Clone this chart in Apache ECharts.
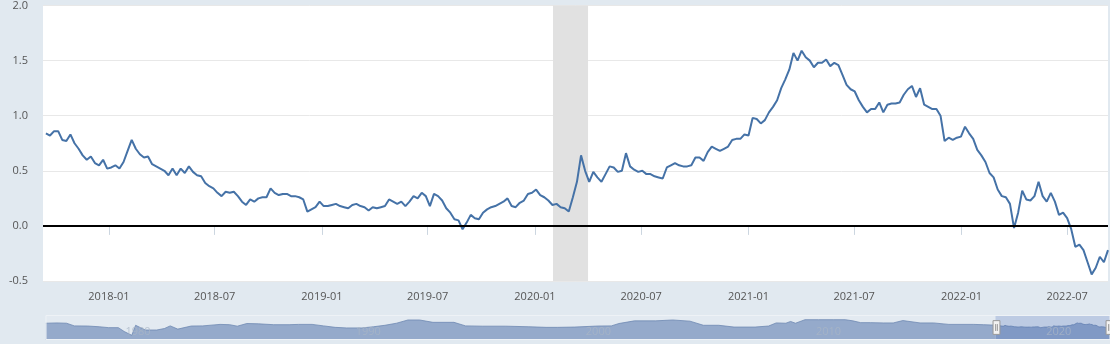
<!DOCTYPE html>
<html>
<head>
<meta charset="utf-8">
<script src="https://cdn.jsdelivr.net/npm/echarts@6/dist/echarts.min.js"></script>
<style>
html, body { margin: 0; padding: 0; background: #e1e9f0; }
#chart { width: 1110px; height: 344px; }
</style>
</head>
<body>
<div id="chart"></div>
<script>
// spread, weekly readings (Fridays) from 2017-09-15 to 2022-09-09
var weekStart = [2017, 8, 15]
var weeklyValues = [
  0.84, 0.82, 0.86, 0.86, 0.78, 0.77, 0.83, 0.75, 0.70, 0.64,
  0.60, 0.63, 0.57, 0.55, 0.60, 0.52, 0.53, 0.55, 0.52, 0.58,
  0.68, 0.78, 0.70, 0.65, 0.62, 0.63, 0.56, 0.54, 0.52, 0.50,
  0.46, 0.52, 0.46, 0.52, 0.48, 0.54, 0.49, 0.46, 0.45, 0.39,
  0.36, 0.34, 0.30, 0.27, 0.31, 0.30, 0.31, 0.27, 0.22, 0.19,
  0.24, 0.22, 0.25, 0.26, 0.26, 0.34, 0.30, 0.28,
  0.29, 0.29, 0.27, 0.27, 0.26, 0.24, 0.13, 0.15, 0.17, 0.22,
  0.18, 0.18, 0.19, 0.20, 0.18, 0.17, 0.16, 0.19, 0.20, 0.18,
  0.17, 0.14, 0.17, 0.16, 0.17, 0.18, 0.24, 0.22, 0.20, 0.22,
  0.18, 0.22, 0.27, 0.25, 0.30, 0.27, 0.18, 0.29, 0.27, 0.23,
  0.16, 0.12, 0.06, 0.05, -0.03, 0.03, 0.10, 0.07, 0.06, 0.12,
  0.15, 0.17, 0.18, 0.20, 0.22, 0.25, 0.18, 0.17, 0.21, 0.23,
  0.29, 0.30, 0.33, 0.28,
  0.26, 0.23, 0.19, 0.20, 0.17, 0.16, 0.13, 0.26, 0.40, 0.64,
  0.50, 0.40, 0.49, 0.44, 0.40, 0.47, 0.54, 0.53, 0.49, 0.50,
  0.66, 0.54, 0.51, 0.49, 0.50, 0.47, 0.47, 0.45, 0.44, 0.43,
  0.53, 0.55, 0.57, 0.55, 0.54, 0.54, 0.55, 0.62, 0.62, 0.59,
  0.67, 0.72, 0.70, 0.68, 0.70, 0.72, 0.78, 0.79, 0.79, 0.83,
  0.82, 0.98, 0.97, 0.93, 0.96, 1.03, 1.08, 1.14, 1.25, 1.33,
  1.42, 1.57, 1.50, 1.59, 1.53, 1.50, 1.44, 1.48,
  1.48, 1.51, 1.45, 1.48, 1.46, 1.37, 1.28, 1.24, 1.22, 1.14,
  1.08, 1.03, 1.06, 1.06, 1.12, 1.03, 1.10, 1.11, 1.11, 1.12,
  1.19, 1.24, 1.27, 1.17, 1.25, 1.10, 1.08, 1.06, 1.06, 1.00,
  0.77, 0.80, 0.78, 0.80, 0.81, 0.90, 0.84, 0.79, 0.69, 0.64,
  0.58, 0.48, 0.44, 0.33, 0.27, 0.26, 0.20, -0.02, 0.12, 0.32,
  0.24, 0.23, 0.27, 0.40, 0.27, 0.22, 0.30, 0.22, 0.10, 0.12,
  0.07, -0.03, -0.19, -0.17, -0.22, -0.33, -0.44, -0.38, -0.28, -0.33,
  -0.22
]

// long history, only seen in the navigator under the chart
var historyDates = [
  '1976-06-01', '1976-12-01', '1977-05-01', '1977-09-01', '1978-04-01', '1978-10-01',
  '1979-03-01', '1979-08-01', '1979-11-01', '1980-03-01', '1980-05-01', '1980-10-01',
  '1981-04-01', '1981-08-01', '1981-11-01', '1982-03-01', '1982-10-01', '1983-04-01',
  '1984-01-01', '1984-06-01', '1984-10-01', '1985-03-01', '1985-09-01', '1986-05-01',
  '1987-01-01', '1987-06-01', '1988-01-01', '1988-07-01', '1989-01-01', '1989-07-01',
  '1990-03-01', '1990-09-01', '1991-03-01', '1991-09-01', '1992-03-01', '1992-09-01',
  '1993-04-01', '1994-03-01', '1994-09-01', '1995-06-01', '1996-06-01', '1997-06-01',
  '1998-03-01', '1998-09-01', '1999-06-01', '2000-06-01', '2001-01-01', '2001-05-01',
  '2002-01-01', '2002-12-01', '2003-09-01', '2004-06-01', '2005-01-01', '2005-09-01',
  '2006-05-01', '2007-04-01', '2007-11-01', '2008-03-01', '2008-08-01', '2008-10-15',
  '2009-01-01', '2009-06-01', '2010-01-01', '2010-09-01', '2011-03-01', '2011-07-01',
  '2011-11-01', '2012-04-01', '2012-11-01', '2013-04-01', '2013-09-01', '2014-06-01',
  '2015-01-01', '2015-09-01', '2016-10-01', '2017-03-01', '2017-07-01'
]
var historyValues = [
  1.5, 1.6, 1.5, 0.6, 0.55, 0.3,
  0.0, 0.0, -1.3, -2.6, 0.8, -0.8,
  -0.8, -0.3, 0.6, -0.5, 0.55, 0.6,
  1.1, 1.0, 0.5, 1.4, 1.3, 1.0,
  1.0, 1.1, 1.1, 0.6, 0.1, -0.1,
  -0.1, 0.3, 0.8, 1.5, 2.6, 2.6,
  1.8, 1.8, 0.6, 0.5, 0.5, 0.3,
  0.1, 0.1, 0.2, 0.55, 0.6, 1.4,
  2.3, 2.3, 2.6, 2.2, 0.8, 0.8,
  0.2, 0.2, 0.55, 1.6, 1.5, 2.1,
  1.5, 2.7, 2.7, 2.7, 2.7, 2.3,
  1.7, 1.7, 1.6, 1.6, 2.4, 1.6,
  1.6, 1.1, 1.1, 1.0, 0.9
]

var recessions = [['2020-02-01', '2020-04-01']]
var viewStart = '2017-09-13'
var viewEnd = '2022-09-12'

const DAY = 24 * 3600 * 1000
const toTime = (s) => {
    let p = s.split('-')
    return new Date(+p[0], +p[1] - 1, +p[2]).getTime()
}
const yearFrac = (t) => {
    let y = new Date(t).getFullYear()
    let s = new Date(y, 0, 1).getTime()
    let e = new Date(y + 1, 0, 1).getTime()
    return y + (t - s) / (e - s)
}

let t0 = new Date(weekStart[0], weekStart[1], weekStart[2]).getTime()
let lineData = []
for (let i = 0; i < historyDates.length; i++) {
    lineData.push([toTime(historyDates[i]), historyValues[i]])
}
for (let i = 0; i < weeklyValues.length; i++) {
    lineData.push([t0 + i * 7 * DAY, weeklyValues[i]])
}
let firstT = lineData[0][0]
let lastT = lineData[lineData.length - 1][0]

const chart = echarts.init(document.getElementById('chart'), null, {renderer: 'canvas'})

const option = {
    backgroundColor: '#e1e9f0',
    animation: false,
    textStyle: {fontFamily: '"Open Sans", sans-serif'},
    grid: [
        {left: 43, right: 2, top: 5, bottom: 63, show: true, backgroundColor: '#ffffff', borderWidth: 0},
        {left: 43, right: 2, bottom: 4, height: 25, show: false}
    ],
    xAxis: [
        {
            type: 'time',
            gridIndex: 0,
            splitNumber: 10,
            minInterval: 181 * DAY,
            maxInterval: 184 * DAY,
            axisLine: {show: false},
            axisTick: {show: true, length: 9, lineStyle: {color: '#ccd6e0'}},
            splitLine: {show: false},
            axisLabel: {formatter: '{yyyy}-{MM}', color: '#555', fontSize: 11, margin: 10}
        },
        {
            type: 'value',
            gridIndex: 1,
            z: 10,
            min: yearFrac(firstT),
            max: yearFrac(lastT),
            splitNumber: 5,
            axisLine: {show: false},
            axisTick: {show: false},
            splitLine: {show: false},
            axisLabel: {
                inside: true, showMinLabel: false, showMaxLabel: false,
                color: 'rgba(170,182,198,0.75)', fontSize: 11, margin: 3, align: 'left',
                formatter: (v) => String(v)
            }
        }
    ],
    yAxis: [
        {
            type: 'value',
            gridIndex: 0,
            min: -0.5,
            max: 2,
            interval: 0.5,
            axisLine: {show: false},
            axisTick: {show: false},
            splitLine: {lineStyle: {color: '#e8e8e8', width: 1}},
            axisLabel: {formatter: (v) => v.toFixed(1), color: '#555', fontSize: 11, margin: 15}
        },
        {type: 'value', gridIndex: 1, show: false}
    ],
    dataZoom: [{
        type: 'slider',
        xAxisIndex: 0,
        filterMode: 'filter',
        startValue: toTime(viewStart),
        endValue: toTime(viewEnd),
        left: 43,
        right: 2,
        bottom: 4,
        height: 25,
        borderRadius: 0,
        backgroundColor: '#e3eaf1',
        borderColor: '#eef2f6',
        showDetail: false,
        brushSelect: false,
        moveHandleSize: 0,
        fillerColor: 'rgba(102,133,194,0.3)',
        dataBackground: {
            lineStyle: {color: '#6f89b2', width: 0.8, opacity: 1},
            areaStyle: {color: '#95aacb', opacity: 1}
        },
        selectedDataBackground: {
            lineStyle: {color: '#5f7caa', width: 0.8, opacity: 1},
            areaStyle: {color: '#8ca3c6', opacity: 1}
        },
        handleIcon: 'path://M0,0 L8,0 L8,16 L0,16 Z M3,4 L3,12 M5,4 L5,12',
        handleSize: '55%',
        handleStyle: {color: '#f2f2f2', borderColor: '#999', borderWidth: 1}
    }],
    series: [{
        type: 'line',
        xAxisIndex: 0,
        yAxisIndex: 0,
        data: lineData,
        showSymbol: false,
        symbol: 'none',
        lineStyle: {color: '#4572a7', width: 2},
        itemStyle: {color: '#4572a7'},
        markArea: {
            silent: true,
            itemStyle: {color: '#e1e1e1'},
            data: recessions.map((r) => [{xAxis: toTime(r[0])}, {xAxis: toTime(r[1])}])
        },
        markLine: {
            silent: true,
            symbol: ['none', 'none'],
            label: {show: false},
            lineStyle: {color: '#000', width: 2, type: 'solid'},
            data: [{yAxis: 0}]
        }
    }]
}

chart.setOption(option)
</script>
</body>
</html>
